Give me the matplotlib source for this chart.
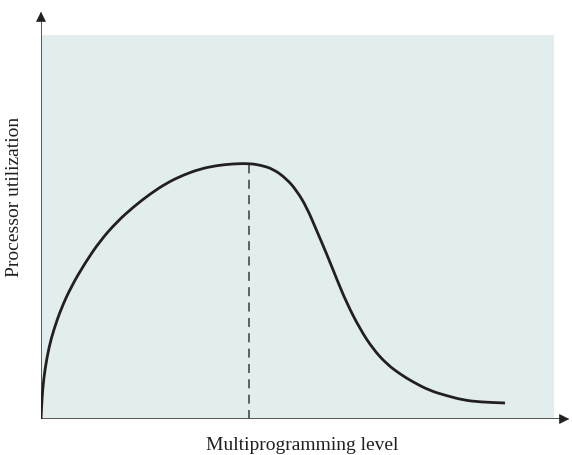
import matplotlib
matplotlib.use('Agg')
import matplotlib.pyplot as plt
from matplotlib.patches import Rectangle, PathPatch
from matplotlib.path import Path

# curve (x: multiprogramming level, y: utilization), arbitrary units
level = [0, 1, 2, 4, 8, 13, 20, 30, 44, 59, 75.7, 92.3, 109, 125.7,
         142.3, 159, 175.7, 192.3, 208, 219, 232.3, 245.7, 255.7, 265.7, 275.7,
         285.7, 295.7, 305.7, 319, 332, 345.7, 359, 372, 389, 405.7, 422, 439, 464]
utilization = [0, 20, 33, 50, 72, 90, 110, 132, 156, 178, 197, 212, 225, 236,
               244, 250, 253.5, 255.2, 255.5, 254, 250, 240, 228.3, 211.7,
               188.3, 165, 140, 116, 90, 70, 55, 45, 37, 28.3, 23.3, 19, 17, 16]
peak_level = 208
peak_util = 255.5

plt.rcParams['font.family'] = ['Liberation Serif', 'DejaVu Serif']

fig = plt.figure(figsize=(5.72, 4.56), dpi=100)
ax = fig.add_axes([41 / 572, 36 / 456, 531 / 572, 410 / 456])
ax.set_xlim(0, 531)
ax.set_ylim(0, 410)
ax.axis('off')

# shaded plot region
ax.add_patch(Rectangle((0, 0), 513, 384, facecolor='#e2eeee', edgecolor='none', zorder=0))

# axes with arrowheads
ax.plot([0, 524], [0, 0], color='#555555', lw=1.4, zorder=2, solid_capstyle='butt')
ax.plot([0, 0], [0, 402], color='#555555', lw=1.4, zorder=2, solid_capstyle='butt')
ax.annotate('', xy=(531, 0), xytext=(518, 0),
            arrowprops=dict(arrowstyle='-|>', color='#231f20', lw=0.5, mutation_scale=16))
ax.annotate('', xy=(0, 410), xytext=(0, 396),
            arrowprops=dict(arrowstyle='-|>', color='#231f20', lw=0.5, mutation_scale=16))

# dashed line under the peak
ax.plot([peak_level, peak_level], [0, peak_util], color='#555555', lw=1.3,
        linestyle=(0, (5, 3.5)), zorder=3)

# utilization curve, drawn as a smooth path through the read points
pts = list(zip(level, utilization))
mid = lambda a, b: ((a[0] + b[0]) / 2, (a[1] + b[1]) / 2)
verts = [pts[0], mid(pts[0], pts[1])]
codes = [Path.MOVETO, Path.LINETO]
for i in range(1, len(pts) - 1):
    verts += [pts[i], mid(pts[i], pts[i + 1])]
    codes += [Path.CURVE3, Path.CURVE3]
verts.append(pts[-1])
codes.append(Path.LINETO)
ax.add_patch(PathPatch(Path(verts, codes), facecolor='none', edgecolor='#231f20',
                       lw=2.0, zorder=4, capstyle='butt', joinstyle='round'))

fig.text(302 / 572, 1 - 446 / 456, 'Multiprogramming level', ha='center', va='center',
         fontsize=14, color='#231f20')
fig.text(15 / 572, 1 - 197 / 456, 'Processor utilization', ha='center', va='center',
         rotation=90, fontsize=14, color='#231f20')

fig.savefig('out.png', dpi=100)
